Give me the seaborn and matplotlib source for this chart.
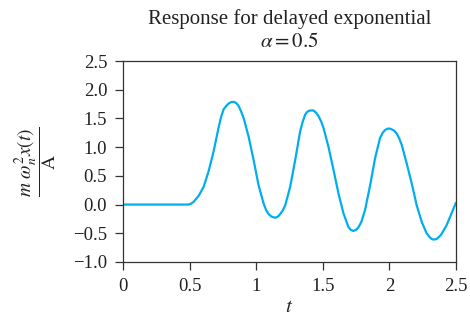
import matplotlib
matplotlib.use("Agg")
import matplotlib.pyplot as plt
import seaborn as sns
import pandas as pd

# values
t_vals = [0.00, 0.10, 0.20, 0.30, 0.40, 0.49, 0.51, 0.53, 0.567, 0.605, 0.642,
          0.68, 0.717, 0.735, 0.755, 0.775, 0.792, 0.81, 0.83, 0.85, 0.867,
          0.885, 0.905, 0.942, 0.98, 1.017, 1.055, 1.075, 1.092, 1.115, 1.143,
          1.165, 1.18, 1.20, 1.218, 1.255, 1.293, 1.33, 1.35, 1.368, 1.385,
          1.405, 1.43, 1.45, 1.468, 1.487, 1.505, 1.542, 1.58, 1.617, 1.655,
          1.692, 1.71, 1.73, 1.75, 1.767, 1.79, 1.818, 1.855, 1.893, 1.93,
          1.95, 1.968, 1.99, 2.01, 2.035, 2.055, 2.075, 2.093, 2.13, 2.168,
          2.205, 2.243, 2.28, 2.30, 2.318, 2.335, 2.355, 2.375, 2.393, 2.43,
          2.468, 2.50]
resp_vals = [0.00, 0.00, 0.00, 0.00, 0.00, 0.00, 0.015, 0.05, 0.15, 0.31, 0.58,
             0.93, 1.34, 1.52, 1.66, 1.72, 1.76, 1.785, 1.79, 1.77, 1.72,
             1.63, 1.51, 1.19, 0.78, 0.34, 0.02, -0.10, -0.165, -0.21, -0.23,
             -0.205, -0.165, -0.10, -0.01, 0.31, 0.78, 1.28, 1.45, 1.57, 1.62,
             1.64, 1.64, 1.60, 1.54, 1.45, 1.34, 1.01, 0.61, 0.20, -0.15,
             -0.39, -0.44, -0.46, -0.44, -0.40, -0.30, -0.09, 0.33, 0.81, 1.16,
             1.25, 1.30, 1.325, 1.32, 1.29, 1.24, 1.15, 1.04, 0.72, 0.37,
             -0.01, -0.30, -0.50, -0.56, -0.60, -0.61, -0.60, -0.56, -0.51, -0.36,
             -0.15, 0.03]

x_ticks = [0, 0.5, 1, 1.5, 2, 2.5]
x_tick_labels = ["0", "0.5", "1", "1.5", "2", "2.5"]
y_ticks = [-1.0, -0.5, 0.0, 0.5, 1.0, 1.5, 2.0, 2.5]
y_tick_labels = ["\u22121.0", "\u22120.5", "0.0", "0.5", "1.0", "1.5", "2.0", "2.5"]

sns.set_theme(style="ticks")
plt.rcParams['font.family'] = ['Liberation Serif', 'DejaVu Serif']
plt.rcParams['mathtext.fontset'] = 'stix'

df = pd.DataFrame({"t": t_vals, "resp": resp_vals})

fig = plt.figure(figsize=(4.7, 3.25), dpi=100)
ax = fig.add_axes([0.262, 0.194, 0.708, 0.618])

sns.lineplot(data=df, x="t", y="resp", ax=ax, color="#00AEEF", linewidth=1.6)

ax.set_xlim(0, 2.5)
ax.set_ylim(-1.0, 2.5)
ax.set_xticks(x_ticks)
ax.set_xticklabels(x_tick_labels)
ax.set_yticks(y_ticks)
ax.set_yticklabels(y_tick_labels)
ax.tick_params(direction='out', length=6, width=0.9, labelsize=13.5,
               colors='#333333', labelcolor='#222222', pad=5.5)
for sp in ax.spines.values():
    sp.set_linewidth(0.9)
    sp.set_color('#333333')

ax.set_title("Response for delayed exponential\n$\\alpha = 0.5$", fontsize=15,
             pad=10, color='#222222', linespacing=1.3)
ax.set_xlabel("$t$", fontsize=15, labelpad=2, color='#222222')
ax.set_ylabel("$\\dfrac{m\\ \\omega_n^2 x(t)}{\\mathrm{A}}$", fontsize=14,
              labelpad=10, color='#222222')

fig.savefig("out.png", dpi=100)
